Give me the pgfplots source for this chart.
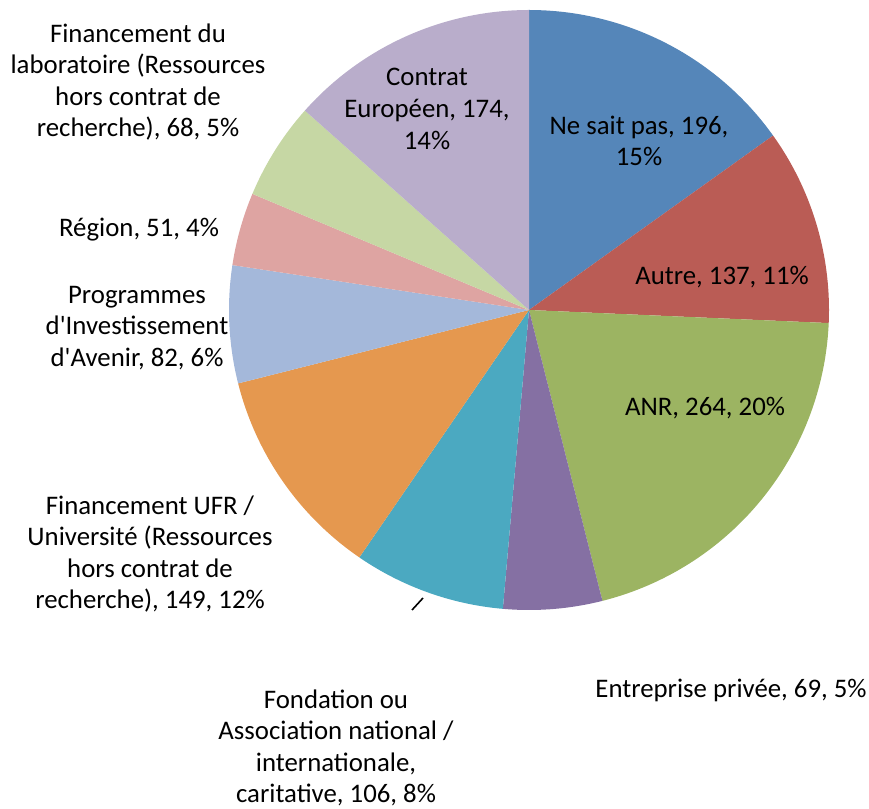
\documentclass[border=0pt]{standalone}
\usepackage{pgfplots}
\pgfplotsset{compat=1.18}
\usepackage{fontspec}
\setmainfont{Carlito}[Ligatures=TeXOff]
\definecolor{c1}{HTML}{5586B9}
\definecolor{c2}{HTML}{BA5C55}
\definecolor{c3}{HTML}{9CB462}
\definecolor{c4}{HTML}{8570A3}
\definecolor{c5}{HTML}{4BA9C1}
\definecolor{c6}{HTML}{E5984F}
\definecolor{c7}{HTML}{A4B8DA}
\definecolor{c8}{HTML}{DEA4A2}
\definecolor{c9}{HTML}{C6D7A4}
\definecolor{c10}{HTML}{B9ADCB}
\begin{document}
\begin{tikzpicture}
\begin{axis}[width=869bp,height=809bp,scale only axis,
  xmin=0,xmax=869,ymin=0,ymax=809,hide axis,clip=false]
\addplot[draw=none] coordinates {(0,0) (869,809)};
\gdef\cum{0}
\pgfplotsforeachungrouped \v/\c in {196/c1,137/c2,264/c3,69/c4,106/c5,149/c6,82/c7,51/c8,68/c9,174/c10}{%
  \pgfmathsetmacro\aA{90-(\cum/1296)*360}%
  \pgfmathsetmacro\newcum{\cum+\v}%
  \pgfmathsetmacro\aB{90-(\newcum/1296)*360}%
  \global\let\cum\newcum
  \edef\temp{\noexpand\addplot[fill=\c,draw=none,domain=\aB:\aA,samples=90,variable=\noexpand\t] ({529+300*cos(\noexpand\t)},{499+300*sin(\noexpand\t)}) -- (axis cs:529,499) -- cycle;}%
  \temp
}
\addplot[black,line width=1.6bp] coordinates {(412,199) (423,211)};
\tikzset{lab/.style={align=center,font=\fontsize{26.8bp}{31.6bp}\selectfont,inner sep=0pt}}
\node[lab] at (axis cs:639,668) {Ne sait pas, 196,\\15\%};
\node[lab] at (axis cs:722,532) {Autre, 137, 11\%};
\node[lab] at (axis cs:705,401) {ANR, 264, 20\%};
\node[lab] at (axis cs:731,119) {Entreprise privée, 69, 5\%};
\node[lab] at (axis cs:336,61) {Fondation ou\\Association national /\\internationale,\\caritative, 106, 8\%};
\node[lab] at (axis cs:150,255) {Financement UFR /\\Université (Ressources\\hors contrat de\\recherche), 149, 12\%};
\node[lab] at (axis cs:137,481) {Programmes\\d'Investissement\\d'Avenir, 82, 6\%};
\node[lab] at (axis cs:139,579) {Région, 51, 4\%};
\node[lab] at (axis cs:138,727) {Financement du\\laboratoire (Ressources\\hors contrat de\\recherche), 68, 5\%};
\node[lab] at (axis cs:427,700) {Contrat\\Européen, 174,\\14\%};
\end{axis}
\end{tikzpicture}
\end{document}
